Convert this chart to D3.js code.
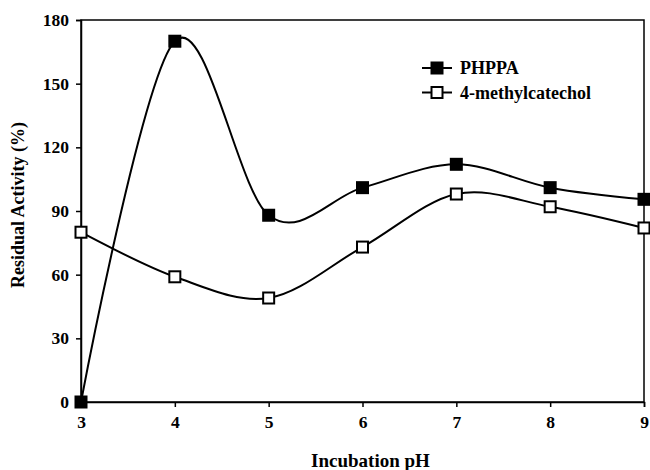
<!DOCTYPE html>
<html>
<head>
<meta charset="utf-8">
<script src="https://cdn.jsdelivr.net/npm/d3@7"></script>
<style>
  body { margin: 0; background: #fff; }
  svg { display: block; font-family: "Liberation Serif", "Times New Roman", serif; font-weight: bold; }
</style>
</head>
<body>
<svg id="chart" width="650" height="470"></svg>
<script>
const phValues = [3, 4, 5, 6, 7, 8, 9];
const phppa = [0, 170, 88, 101, 112, 101, 95.5];
const methylcatechol = [80, 59, 49, 73, 98, 92, 82];
const yTicks = [0, 30, 60, 90, 120, 150, 180];
const seriesNames = ['PHPPA', '4-methylcatechol'];

const margin = {top: 20, right: 6, bottom: 68, left: 81};
const width = 650, height = 470;

let svg = d3.select('#chart');

let x = d3.scaleLinear()
    .domain([3, 9])
    .range([margin.left, width - margin.right]);

let y = d3.scaleLinear()
    .domain([0, 180])
    .range([height - margin.bottom, margin.top]);

// frame
svg.append('rect')
    .attr('x', x(3))
    .attr('y', y(180))
    .attr('width', x(9) - x(3))
    .attr('height', y(0) - y(180))
    .attr('fill', 'none')
    .attr('stroke', '#000')
    .attr('stroke-width', 1.5);

let xAxis = svg.append('g')
    .attr('transform', `translate(0,${y(0)})`)
    .call(d3.axisBottom(x).tickValues(phValues).tickSize(5).tickPadding(9).tickFormat(d3.format('d')));

let yAxis = svg.append('g')
    .attr('transform', `translate(${x(3)},0)`)
    .call(d3.axisLeft(y).tickValues(yTicks).tickSize(5).tickPadding(7));

[xAxis, yAxis].forEach(a => {
    a.select('.domain').attr('stroke-width', 1.5);
    a.selectAll('.tick line').attr('stroke-width', 1.5);
    a.selectAll('text')
        .attr('font-family', '"Liberation Serif", serif')
        .attr('font-weight', 'bold')
        .attr('font-size', 17.5)
        .attr('fill', '#000');
});

svg.append('text')
    .attr('x', (x(3) + x(9)) / 2 + 8)
    .attr('y', 467)
    .attr('text-anchor', 'middle')
    .attr('font-size', 19)
    .text('Incubation pH');

svg.append('text')
    .attr('transform', `translate(24,${(y(0) + y(180)) / 2 - 6}) rotate(-90)`)
    .attr('text-anchor', 'middle')
    .attr('font-size', 18)
    .text('Residual Activity (%)');

let line = d3.line()
    .x(d => x(d[0]))
    .y(d => y(d[1]))
    .curve(d3.curveCatmullRom.alpha(0));

let series = [
    {name: seriesNames[0], values: phppa, fill: '#000'},
    {name: seriesNames[1], values: methylcatechol, fill: '#fff'}
];

series.forEach(s => {
    let pts = phValues.map((p, i) => [p, s.values[i]]);
    svg.append('path')
        .datum(pts)
        .attr('d', line)
        .attr('fill', 'none')
        .attr('stroke', '#000')
        .attr('stroke-width', 2);
});

series.forEach(s => {
    svg.append('g')
        .selectAll('rect')
        .data(phValues.map((p, i) => [p, s.values[i]]))
        .enter()
        .append('rect')
            .attr('x', d => x(d[0]) - 5.5)
            .attr('y', d => y(d[1]) - 5.5)
            .attr('width', 11)
            .attr('height', 11)
            .attr('fill', s.fill)
            .attr('stroke', '#000')
            .attr('stroke-width', 2);
});

// legend
let legend = svg.append('g')
    .selectAll('g')
    .data(series)
    .enter()
    .append('g')
    .attr('transform', (d, i) => `translate(422,${68 + i * 24.5})`);

legend.append('line')
    .attr('x1', 0).attr('x2', 30)
    .attr('stroke', '#000')
    .attr('stroke-width', 2);

legend.append('rect')
    .attr('x', 9.5).attr('y', -5.5)
    .attr('width', 11).attr('height', 11)
    .attr('fill', d => d.fill)
    .attr('stroke', '#000')
    .attr('stroke-width', 2);

legend.append('text')
    .attr('x', 38)
    .attr('y', 6)
    .attr('font-size', 18)
    .text(d => d.name);
</script>
</body>
</html>
